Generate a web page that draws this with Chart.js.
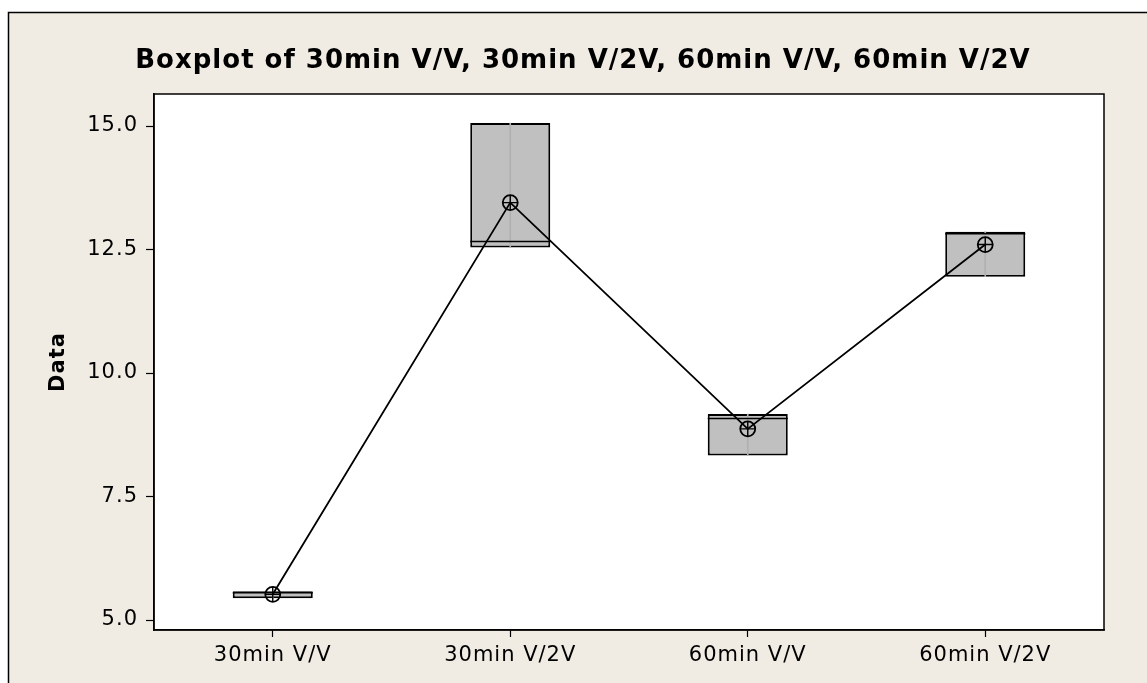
<!DOCTYPE html>
<html>
<head>
<meta charset="utf-8">
<script src="https://cdn.jsdelivr.net/npm/chart.js@4.4.1/dist/chart.umd.min.js"></script>
<style>
  html, body { margin: 0; padding: 0; background: #ffffff; }
  #wrap { width: 1147px; height: 683px; }
</style>
</head>
<body>
<div id="wrap"><canvas id="c" width="1147" height="683"></canvas></div>
<script>
// ---- data ----
const categories = ['30min V/V', '30min V/2V', '60min V/V', '60min V/2V'];
const q1Values     = [5.44, 12.54, 8.33, 11.95];
const q3Values     = [5.58, 15.06, 9.17, 12.86];
const medianValues = [5.55, 12.66, 9.08, 12.82];
const meanValues   = [5.52, 13.45, 8.87, 12.60];
const yTicks       = [5.0, 7.5, 10.0, 12.5, 15.0];
const titleText = 'Boxplot of 30min V/V, 30min V/2V, 60min V/V, 60min V/2V';
const yAxisTitle = 'Data';

const boxData = categories.map((c, i) => [q1Values[i], q3Values[i]]);

const framePlugin = {
  id: 'frame',
  beforeDraw(chart) {
    const ctx = chart.ctx;
    const a = chart.chartArea;
    ctx.save();
    ctx.fillStyle = '#ffffff';
    ctx.fillRect(0, 0, chart.width, chart.height);
    ctx.fillStyle = '#F0ECE3';
    ctx.fillRect(8, 12, chart.width - 8, chart.height - 12);
    ctx.strokeStyle = '#000000';
    ctx.lineWidth = 1.5;
    ctx.beginPath();
    ctx.moveTo(8.5, chart.height);
    ctx.lineTo(8.5, 12.5);
    ctx.lineTo(chart.width, 12.5);
    ctx.stroke();
    ctx.fillStyle = '#ffffff';
    ctx.fillRect(a.left, a.top, a.right - a.left, a.bottom - a.top);
    ctx.restore();
    ctx.letterSpacing = '1px';
  },
  afterDraw(chart) {
    const ctx = chart.ctx;
    const a = chart.chartArea;
    ctx.save();
    ctx.strokeStyle = '#000000';
    ctx.lineWidth = 1.5;
    ctx.strokeRect(a.left, a.top, a.right - a.left, a.bottom - a.top);
    ctx.restore();
  }
};

new Chart(document.getElementById('c'), {
  data: {
    labels: categories,
    datasets: [
      {
        type: 'bar',
        label: 'Box',
        data: boxData,
        backgroundColor: '#C0C0C0',
        borderColor: '#000000',
        borderWidth: 2,
        borderSkipped: false,
        categoryPercentage: 1,
        barPercentage: 0.337,
        grouped: false,
        order: 5
      },
      {
        type: 'bar',
        label: 'Whisker',
        data: boxData,
        backgroundColor: '#B0B0B0',
        borderWidth: 0,
        barThickness: 1,
        grouped: false,
        order: 4
      },
      {
        type: 'line',
        label: 'Median',
        data: medianValues,
        showLine: false,
        pointStyle: 'line',
        pointRadius: 40,
        pointHoverRadius: 40,
        pointBorderWidth: 1.5,
        pointBorderColor: '#000000',
        borderColor: '#000000',
        order: 3
      },
      {
        type: 'line',
        label: 'Mean',
        data: meanValues,
        borderColor: '#000000',
        borderWidth: 1.8,
        tension: 0,
        fill: false,
        pointStyle: 'circle',
        pointRadius: 7.5,
        pointBorderWidth: 1.8,
        pointBorderColor: '#000000',
        pointBackgroundColor: 'rgba(0,0,0,0)',
        order: 2
      },
      {
        type: 'line',
        label: 'MeanCross',
        data: meanValues,
        showLine: false,
        pointStyle: 'cross',
        pointRadius: 7.5,
        pointBorderWidth: 1.4,
        pointBorderColor: '#000000',
        order: 1
      }
    ]
  },
  options: {
    responsive: false,
    animation: false,
    devicePixelRatio: 1,
    layout: { padding: { left: 62, right: 43, top: 0, bottom: 0 } },
    plugins: {
      legend: { display: false },
      tooltip: { enabled: false },
      title: {
        display: true,
        text: titleText,
        color: '#000000',
        font: { family: 'DejaVu Sans', size: 26, weight: 'bold', lineHeight: 1.2 },
        padding: { top: 45.4, bottom: 17.4 }
      }
    },
    scales: {
      x: {
        type: 'category',
        offset: true,
        grid: { display: true, offset: false, drawOnChartArea: false, drawTicks: true, tickLength: 7, tickWidth: 1.2, tickColor: '#000000' },
        border: { display: true, color: '#000000', width: 1.5 },
        ticks: { color: '#000000', padding: 6, font: { family: 'DejaVu Sans', size: 21 } },
        afterFit(scale) { scale.height = 53; }
      },
      y: {
        type: 'linear',
        min: 4.798,
        max: 15.648,
        afterBuildTicks(scale) { scale.ticks = yTicks.map(v => ({ value: v })); },
        grid: { display: true, drawOnChartArea: false, drawTicks: true, tickLength: 8, tickWidth: 1.2, tickColor: '#000000' },
        border: { display: true, color: '#000000', width: 1.5 },
        ticks: {
          color: '#000000', padding: 8,
          font: { family: 'DejaVu Sans', size: 21 },
          callback: (v) => Number(v).toFixed(1)
        },
        title: {
          display: true,
          text: yAxisTitle,
          color: '#000000',
          font: { family: 'DejaVu Sans', size: 21, weight: 'bold', lineHeight: 1.2 },
          padding: { top: -16, bottom: 0 }
        },
        afterFit(scale) { scale.width = 92; }
      }
    }
  },
  plugins: [framePlugin]
});
</script>
</body>
</html>
